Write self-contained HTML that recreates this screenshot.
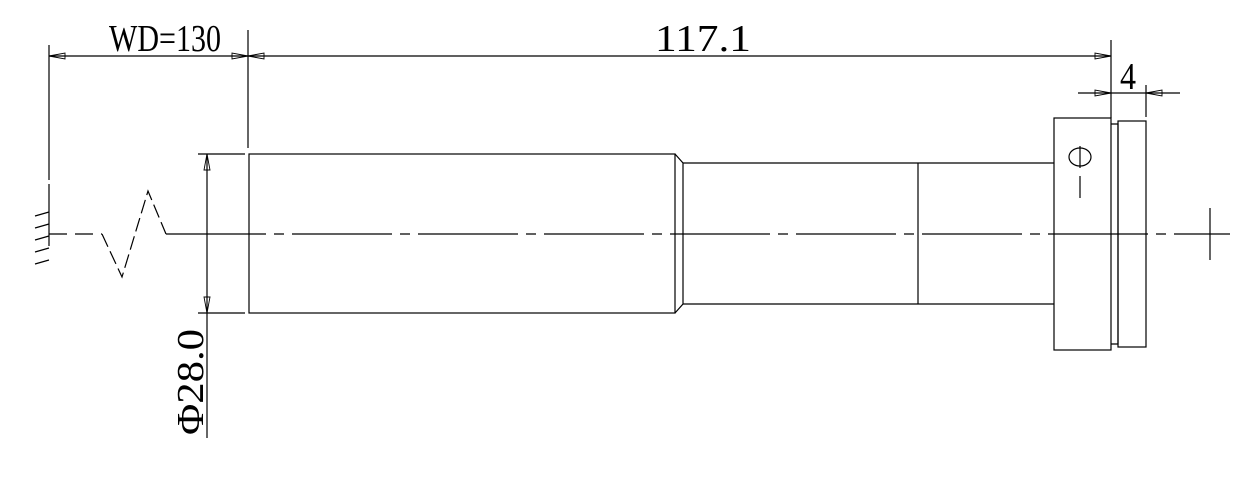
<!DOCTYPE html>
<html><head><meta charset="utf-8"><style>html,body{margin:0;padding:0;background:#fff;}svg{display:block}</style></head>
<body>
<svg width="1253" height="493" viewBox="0 0 1253 493" xmlns="http://www.w3.org/2000/svg">
<g stroke="#000" stroke-width="1.2" fill="none">
<line x1="49" y1="56" x2="1111" y2="56"/>
<line x1="49" y1="45" x2="49" y2="180"/>
<line x1="49" y1="184" x2="49" y2="246"/>
<line x1="248" y1="30" x2="248" y2="148"/>
<line x1="1111" y1="40" x2="1111" y2="118"/>
<line x1="1146" y1="85" x2="1146" y2="117"/>
<line x1="1078" y1="93" x2="1180" y2="93"/>
<g stroke-width="0.9">
<polygon points="49,56 65,53 65,59"/>
<polygon points="248,56 232,53 232,59"/>
<polygon points="248,56 264,53 264,59"/>
<polygon points="1111,56 1095,53 1095,59"/>
<polygon points="1111,93 1095,90 1095,96"/>
<polygon points="1146,93 1162,90 1162,96"/>
<polygon points="207,154 204,170 210,170"/>
<polygon points="207,313 204,297 210,297"/>
</g>
<line x1="35" y1="216" x2="49" y2="212"/>
<line x1="35" y1="228" x2="49" y2="224"/>
<line x1="35" y1="240" x2="49" y2="236"/>
<line x1="35" y1="252" x2="49" y2="248"/>
<line x1="35" y1="264" x2="49" y2="260"/>
<polyline points="102,234 122,277 148,191 166,234" stroke-dasharray="14 5"/>
<line x1="49" y1="234" x2="102" y2="234" stroke-dasharray="18 8"/>
<line x1="166" y1="234" x2="1200" y2="234" stroke-dasharray="100 8 10 8"/>
<line x1="207" y1="154" x2="207" y2="438"/>
<line x1="198" y1="154" x2="245" y2="154"/>
<line x1="198" y1="313" x2="245" y2="313"/>
<rect x="249" y="154" width="426" height="159"/>
<polyline points="675,154 683,163 683,304 675,313"/>
<line x1="683" y1="163" x2="1054" y2="163"/>
<line x1="683" y1="304" x2="1054" y2="304"/>
<line x1="918" y1="163" x2="918" y2="304"/>
<rect x="1054" y="118" width="57" height="232"/>
<polyline points="1111,124 1118,124 1118,344 1111,344"/>
<rect x="1118" y="121" width="28" height="226"/>
<ellipse cx="1080" cy="157" rx="11" ry="9"/>
<line x1="1080" y1="146" x2="1080" y2="168"/>
<line x1="1080" y1="176" x2="1080" y2="198"/>
<line x1="1210" y1="208" x2="1210" y2="260"/>
<line x1="1200" y1="234" x2="1230" y2="234"/>
</g>
<g font-family="Liberation Serif, serif" fill="#000" font-size="38">
<text x="165" y="51" text-anchor="middle" textLength="112" lengthAdjust="spacingAndGlyphs">WD=130</text>
<text x="703" y="51" text-anchor="middle" textLength="96" lengthAdjust="spacingAndGlyphs">117.1</text>
<text x="1128" y="89" text-anchor="middle" textLength="16" lengthAdjust="spacingAndGlyphs">4</text>
<text transform="translate(203,382) rotate(-90)" text-anchor="middle" textLength="106" lengthAdjust="spacingAndGlyphs">Φ28.0</text>
</g>
</svg>
</body></html>
